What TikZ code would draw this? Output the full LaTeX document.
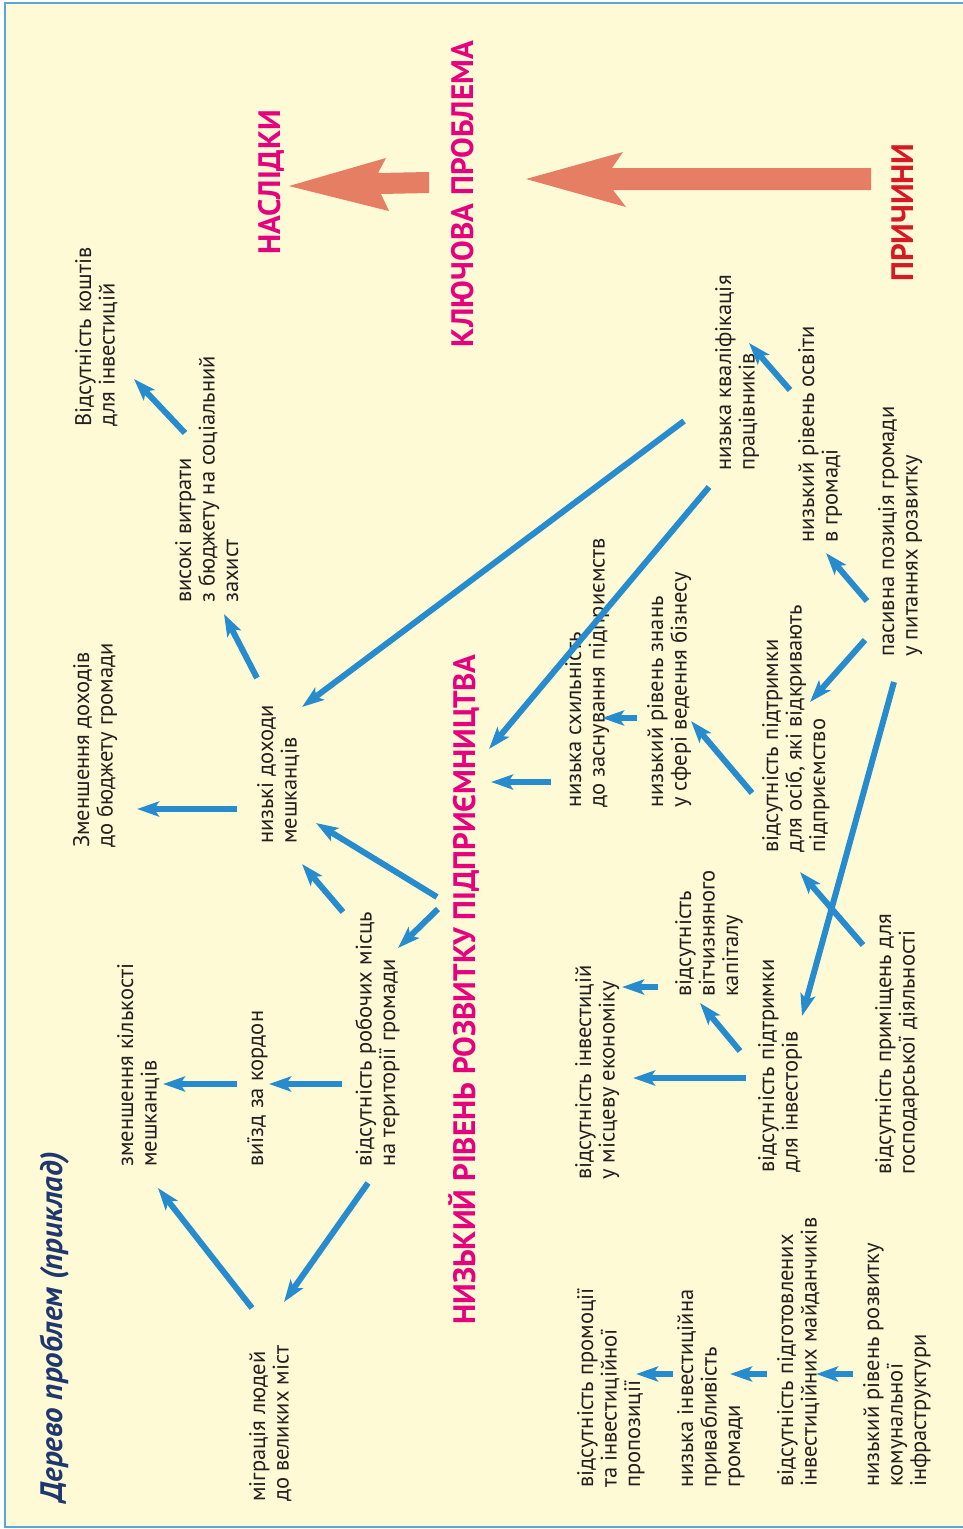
\documentclass[tikz,border=0pt]{standalone}
\usepackage{fontspec}
\setmainfont{PT Sans}
\usetikzlibrary{arrows.meta}
\definecolor{bg}{RGB}{255,250,214}
\definecolor{frame}{RGB}{90,165,220}
\definecolor{blu}{RGB}{39,140,206}
\definecolor{txt}{RGB}{35,31,32}
\definecolor{mag}{RGB}{230,0,126}
\definecolor{redh}{RGB}{215,25,35}
\definecolor{sal}{RGB}{229,126,98}
\definecolor{navy}{RGB}{30,55,110}
\newcommand\conn[3]{\coordinate (#1s) at #2; \coordinate (#1e) at #3; \draw[arr] (#1s) -- (#1e);}
\begin{document}
\begin{tikzpicture}[x=1pt,y=-1pt,
  body/.style={rotate=90,anchor=north west,align=left,inner sep=0pt,text=txt,font=\fontsize{22.5}{23.5}\selectfont},
  head/.style={rotate=90,anchor=base west,inner sep=0pt,font=\fontsize{31}{33}\selectfont\bfseries},
  arr/.style={draw=blu,line width=6pt,-{Stealth[length=22pt,width=15pt,inset=5pt]}}]
\useasboundingbox (0,0) rectangle (963,1529);
\clip (0,0) rectangle (963,1529);
\fill[white] (0,0) rectangle (963,1529);
\fill[bg] (5,3) rectangle (975,1527);
\draw[frame,line width=2pt] (975,3) -- (5,3) -- (5,1527) -- (975,1527);

% big arrows
\fill[sal] (289,186) -- (386,158) -- (378,173) -- (429,172) -- (429,193) -- (381,194) -- (389,211) -- cycle;
\fill[sal] (526,179) -- (623,152) -- (612,168) -- (871,168) -- (871,190) -- (613,190) -- (626,207) -- cycle;

% headings
\node[head,text=navy,font=\fontsize{31}{33}\selectfont\bfseries\itshape] (title) at (62,1503) {Дерево проблем (приклад)};
\node[head,text=mag] (nasl) at (280,255) {НАСЛІДКИ};
\node[head,text=mag] (kp) at (473,348) {КЛЮЧОВА ПРОБЛЕМА};
\node[head,text=redh] (prych) at (913,282) {ПРИЧИНИ};
\node[head,text=mag] (nyz) at (475,1325) {НИЗЬКИЙ РІВЕНЬ РОЗВИТКУ ПІДПРИЄМНИЦТВА};

% body texts
\node[body] (migr) at (249,1502) {міграція людей\\до великих міст};
\node[body] (zmkil) at (117,1167) {зменшення кількості\\мешканців};
\node[body] (vyizd) at (247,1167) {виїзд за кордон};
\node[body] (robm) at (355,1167) {відсутність робочих місць\\на території громади};
\node[body] (zmdoh) at (73,848) {Зменшення доходів\\до бюджету громади};
\node[body] (nyzdoh) at (257,844) {низькі доходи\\мешканців};
\node[body] (vysvytr) at (175,603) {високі витрати\\з бюджету на соціальний\\захист};
\node[body] (kosht) at (75,427) {Відсутність коштів\\для інвестицій};
\node[body] (kval) at (715,471) {низька кваліфікація\\працівників};
\node[body] (osvit) at (798,543) {низький рівень освіти\\в громаді};
\node[body] (pasyv) at (878,657) {пасивна позиція громади\\у питаннях розвитку};
\node[body] (skhyl) at (565,808) {низька схильність\\до заснування підприємств};
\node[body] (znan) at (647,808) {низький рівень знань\\у сфері ведення бізнесу};
\node[body] (pidtos) at (762,853) {відсутність підтримки\\для осіб, які відкривають\\підприємство};
\node[body] (invest) at (575,1180) {відсутність інвестицій\\у місцеву економіку};
\node[body] (kapit) at (675,997) {відсутність\\вітчизняного\\капіталу};
\node[body] (pidtinv) at (758,1173) {відсутність підтримки\\для інвесторів};
\node[body] (prymish) at (875,1175) {відсутність приміщень для\\господарської діяльності};
\node[body] (promo) at (577,1488) {відсутність промоції\\та інвестиційної\\пропозиції};
\node[body] (pryvab) at (677,1488) {низька інвестиційна\\привабливість\\громади};
\node[body] (maid) at (777,1487) {відсутність підготовлених\\інвестиційних майданчиків};
\node[body] (infra) at (863,1487) {низький рівень розвитку\\комунальної\\інфраструктури};

% connectors
\conn{a1}{(185,433)}{(134,379)}
\conn{a2}{(257,678)}{(224,614)}
\conn{a3}{(237,809)}{(137,809)}
\conn{a4}{(684,421)}{(302,707)}
\conn{a5}{(437,897)}{(316,823)}
\conn{a5b}{(438,909)}{(398,948)}
\conn{a6}{(343,912)}{(302,864)}
\conn{a7}{(342,1084)}{(269,1084)}
\conn{a8}{(237,1084)}{(163,1084)}
\conn{a9}{(368,1183)}{(284,1302)}
\conn{a10}{(252,1308)}{(158,1188)}
\conn{a11}{(709,487)}{(489,749)}
\conn{a12}{(551,782)}{(491,782)}
\conn{a13}{(637,718)}{(602,718)}
\conn{a14}{(752,793)}{(691,721)}
\conn{a15}{(865,640)}{(810,702)}
\conn{a16}{(867,601)}{(826,553)}
\conn{a17}{(790,390)}{(749,343)}
\conn{a18}{(894,682)}{(802,1016)}
\conn{a19}{(863,945)}{(800,872)}
\conn{a20}{(740,1051)}{(700,1003)}
\conn{a21}{(746,1078)}{(633,1078)}
\conn{a22}{(658,987)}{(622,987)}
\conn{a23}{(853,1374)}{(816,1374)}
\conn{a24}{(767,1374)}{(730,1374)}
\conn{a25}{(673,1374)}{(636,1374)}
\end{tikzpicture}
\end{document}
